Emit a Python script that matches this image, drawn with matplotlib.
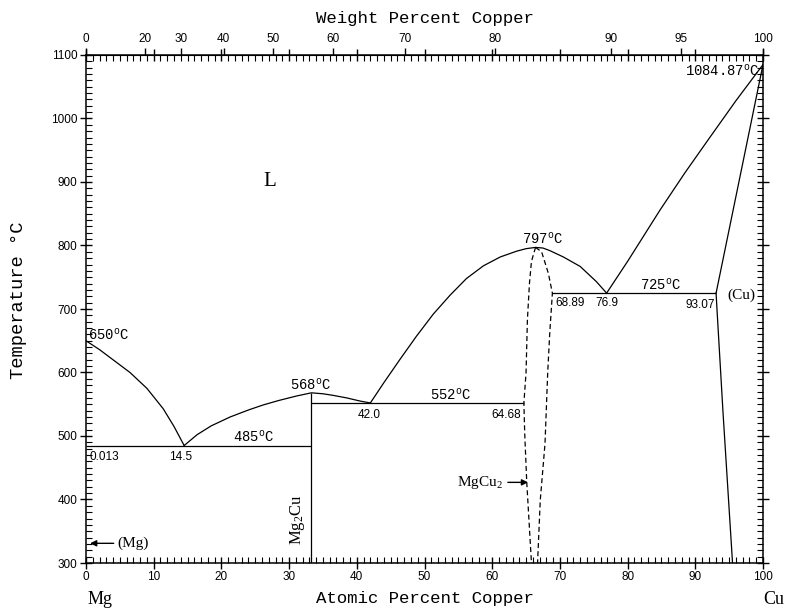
import matplotlib
matplotlib.use('Agg')
import matplotlib.pyplot as plt
from matplotlib.ticker import MultipleLocator

plt.rcParams['mathtext.fontset'] = 'custom'
plt.rcParams['mathtext.rm'] = 'Liberation Serif'
plt.rcParams['mathtext.it'] = 'Liberation Serif:italic'
plt.rcParams['mathtext.tt'] = 'Liberation Mono'

# molar masses for the weight percent scale on top
M_CU = 63.546
M_MG = 24.305

# liquidus branches (atomic % Cu, temperature C)
liq_mg_x = [0, 2, 4, 6.5, 9, 11.4, 13, 14.5]
liq_mg_t = [650, 636, 620, 600, 575, 543, 515, 485]

liq_mg2cu_x = [14.5, 16.4, 18.5, 21.3, 24, 26.2, 28.5, 31.1, 33.3, 35, 36.5, 38.5, 40.5, 42.0]
liq_mg2cu_t = [485, 502, 516, 530, 541, 549, 556, 563, 568, 566.5, 564, 560, 555, 552]

liq_mgcu2_x = [42.0, 44.0, 46.4, 48.8, 51.3, 53.8, 56.2, 58.7, 61.2, 63.6, 65.0, 66.4,
               67.5, 68.5, 70.5, 73.0, 75.4, 76.9]
liq_mgcu2_t = [552, 584, 621, 657, 692, 722, 748, 768, 782, 791, 795, 797,
               796, 792, 782, 767, 743, 725]

liq_cu_x = [76.9, 80, 84.8, 88.5, 92.2, 96, 100]
liq_cu_t = [725, 775, 856, 915, 971, 1028, 1084.87]

# (Cu) solidus and solvus
sol_cu_x = [93.07, 100]
sol_cu_t = [725, 1084.87]
solv_cu_x = [93.07, 93.2, 94.1, 95.5]
solv_cu_t = [725, 700, 536, 300]

# MgCu2 homogeneity range (dashed)
mgcu2_l_x = [66.4, 65.8, 65.5, 65.2, 65.0, 64.68, 64.8, 65.1, 65.8]
mgcu2_l_t = [797, 775, 740, 683, 600, 552, 505, 428, 300]
mgcu2_r_x = [66.4, 67.3, 68.3, 68.89, 68.5, 68.2, 67.8, 67.1, 66.7]
mgcu2_r_t = [797, 790, 756, 725, 662, 600, 488, 399, 300]

# invariant lines
iso_t = [485, 552, 725]
iso_x0 = [0.013, 33.3, 68.89]
iso_x1 = [33.3, 64.68, 93.07]

# Mg2Cu line compound
mg2cu_x = 33.3
mg2cu_t = [300, 568]

wt_ticks = [0, 20, 30, 40, 50, 60, 70, 80, 90, 95, 100]


def at2wt(a):
    return 100.0 * a * M_CU / (a * M_CU + (100.0 - a) * M_MG)


def wt2at(w):
    return 100.0 * (w / M_CU) / (w / M_CU + (100.0 - w) / M_MG)


def deg(s):
    return r'$\mathtt{' + s + r'^{o}C}$'


fig = plt.figure(figsize=(7.85, 6.12), dpi=100)
ax = fig.add_axes([86/785, 1-563/612, 677/785, 508/612])

lw = 0.9
ax.plot(liq_mg_x, liq_mg_t, 'k-', lw=lw)
ax.plot(liq_mg2cu_x, liq_mg2cu_t, 'k-', lw=lw)
ax.plot(liq_mgcu2_x, liq_mgcu2_t, 'k-', lw=lw)
ax.plot(liq_cu_x, liq_cu_t, 'k-', lw=lw)
ax.plot(sol_cu_x, sol_cu_t, 'k-', lw=lw)
ax.plot(solv_cu_x, solv_cu_t, 'k-', lw=lw)
ax.plot(mgcu2_l_x, mgcu2_l_t, 'k', lw=lw, ls=(0, (4, 2.5)))
ax.plot(mgcu2_r_x, mgcu2_r_t, 'k', lw=lw, ls=(0, (4, 2.5)))
ax.hlines(iso_t, iso_x0, iso_x1, colors='k', lw=lw)
ax.vlines(mg2cu_x, mg2cu_t[0], mg2cu_t[1], colors='k', lw=lw)

ax.set_xlim(0, 100)
ax.set_ylim(300, 1100)
ax.set_xticks(range(0, 101, 10))
ax.set_yticks(range(300, 1101, 100))
ax.xaxis.set_minor_locator(MultipleLocator(1))
ax.yaxis.set_minor_locator(MultipleLocator(10))
ax.tick_params(which='major', direction='inout', length=8, width=1,
               top=True, right=True, pad=2, labelsize=8.5)
ax.tick_params(which='minor', direction='in', length=4, width=0.8,
               top=True, right=True)
for lab in ax.get_xticklabels() + ax.get_yticklabels():
    lab.set_family('Liberation Sans')
for sp in ax.spines.values():
    sp.set_linewidth(1.1)

# weight percent scale
sec = ax.secondary_xaxis('top', functions=(at2wt, wt2at))
sec.set_xticks(wt_ticks)
sec.tick_params(which='major', direction='out', length=5, width=1, pad=2, labelsize=8.5)
sec.tick_params(which='minor', length=0)
for lab in sec.get_xticklabels():
    lab.set_family('Liberation Sans')

# axis titles
fig.text(0.541, 0.970, 'Weight Percent Copper', family='Liberation Mono',
         fontsize=12.5, ha='center', va='center')
fig.text(0.541, 0.022, 'Atomic Percent Copper', family='Liberation Mono',
         fontsize=12.5, ha='center', va='center')
fig.text(0.024, 0.51, 'Temperature °C', family='Liberation Mono',
         fontsize=13.5, ha='center', va='center', rotation=90)
fig.text(88/785, 0.02, 'Mg', family='Liberation Serif', fontsize=13,
         ha='left', va='center')
fig.text(763/785, 0.02, 'Cu', family='Liberation Serif', fontsize=13,
         ha='left', va='center')

# temperatures
tk = dict(fontsize=10, color='k')
ax.text(0.3, 659, deg('650'), ha='left', va='center', **tk)
ax.text(24.7, 486, deg('485'), ha='center', va='bottom', **tk)
ax.text(33.1, 568, deg('568'), ha='center', va='bottom', **tk)
ax.text(53.8, 553, deg('552'), ha='center', va='bottom', **tk)
ax.text(67.5, 798, deg('797'), ha='center', va='bottom', **tk)
ax.text(84.8, 726, deg('725'), ha='center', va='bottom', **tk)
ax.text(99.4, 1076, deg('1084.87'), ha='right', va='center', **tk)

# compositions
ck = dict(fontsize=8.5, family='Liberation Sans', color='k')
ax.text(0.5, 467, '0.013', ha='left', va='center', **ck)
ax.text(14.0, 467, '14.5', ha='center', va='center', **ck)
ax.text(41.9, 533, '42.0', ha='center', va='center', **ck)
ax.text(64.3, 533, '64.68', ha='right', va='center', **ck)
ax.text(69.3, 709, '68.89', ha='left', va='center', **ck)
ax.text(76.9, 709, '76.9', ha='center', va='center', **ck)
ax.text(92.9, 706, '93.07', ha='right', va='center', **ck)

# phase labels
sk = dict(family='Liberation Serif', color='k')
ax.text(27.2, 901, 'L', fontsize=15, ha='center', va='center', **sk)
ax.text(96.8, 722, '(Cu)', fontsize=11, ha='center', va='center', **sk)
ax.text(31.2, 368, 'Mg$_2$Cu', fontsize=12, ha='center', va='center', rotation=90, **sk)
ax.text(61.5, 427, 'MgCu$_2$', fontsize=11, ha='right', va='center', **sk)
ax.annotate('', xy=(65.7, 427), xytext=(61.9, 427),
            arrowprops=dict(arrowstyle='-|>', color='k', lw=1, mutation_scale=9))
ax.text(4.6, 331, '(Mg)', fontsize=11, ha='left', va='center', **sk)
ax.annotate('', xy=(0.2, 331), xytext=(4.5, 331),
            arrowprops=dict(arrowstyle='-|>', color='k', lw=1, mutation_scale=9))

fig.savefig('out.png', dpi=100, facecolor='white')
